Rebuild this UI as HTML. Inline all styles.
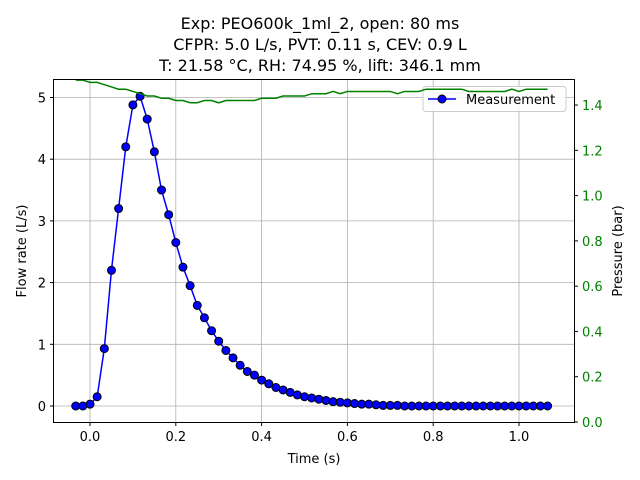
<!DOCTYPE html>
<html><head><meta charset="utf-8">
<style>
body{margin:0;background:#fff;}
svg{display:block;font-family:"DejaVu Sans","Liberation Sans",sans-serif;}
</style></head>
<body>
<svg id="chart" width="640" height="480">
<g font-size="16" text-anchor="middle" fill="#000">
<text x="320" y="29">Exp: PEO600k_1ml_2, open: 80 ms</text>
<text x="320" y="50">CFPR: 5.0 L/s, PVT: 0.11 s, CEV: 0.9 L</text>
<text x="320" y="71">T: 21.58 °C, RH: 74.95 %, lift: 346.1 mm</text>
</g>
<g id="grid"></g>
<g id="flowmarks"></g>
<g>
<rect x="423" y="86.5" width="143" height="25" rx="3" fill="#fff" fill-opacity="0.8" stroke="#ccc"/>
<line x1="428" y1="99" x2="456" y2="99" stroke="#0000ff" stroke-width="1.5"/>
<circle cx="442" cy="99" r="4" fill="#0000ff" stroke="#000"/>
<text x="466" y="104" font-size="13">Measurement</text>
</g>
<g id="marks"></g>
<rect x="53.5" y="79.5" width="521" height="343" fill="none" stroke="#000" stroke-width="1"/>
<g id="axes"></g>
<text x="314" y="463" font-size="13" text-anchor="middle">Time (s)</text>
<text transform="translate(26,251) rotate(-90)" font-size="13" text-anchor="middle">Flow rate (L/s)</text>
<text transform="translate(622,251) rotate(-90)" font-size="13" text-anchor="middle">Pressure (bar)</text>
</svg>
<script>
const flow=[0,0,0.03,0.15,0.93,2.2,3.2,4.2,4.88,5.02,4.65,4.12,3.5,3.1,2.65,2.25,1.95,1.63,1.43,1.22,1.05,0.9,0.78,0.66,0.56,0.5,0.42,0.36,0.3,0.26,0.22,0.18,0.15,0.13,0.11,0.09,0.07,0.06,0.05,0.04,0.03,0.03,0.02,0.01,0.01,0.01,0,0,0,0,0,0,0,0,0,0,0,0,0,0,0,0,0,0,0,0,0];
const pressure=[1.51,1.51,1.50,1.50,1.49,1.48,1.47,1.47,1.46,1.45,1.44,1.44,1.43,1.43,1.42,1.42,1.41,1.41,1.42,1.42,1.41,1.42,1.42,1.42,1.42,1.42,1.43,1.43,1.43,1.44,1.44,1.44,1.44,1.45,1.45,1.45,1.46,1.45,1.46,1.46,1.46,1.46,1.46,1.46,1.46,1.45,1.46,1.46,1.46,1.47,1.47,1.47,1.47,1.47,1.47,1.46,1.46,1.46,1.46,1.46,1.46,1.47,1.46,1.47,1.47,1.47,1.47];
const t0=-0.0333, dt=1/60;
const xTicks=[0,0.2,0.4,0.6,0.8,1.0];
const xTickLabels=["0.0","0.2","0.4","0.6","0.8","1.0"];
const yTicks=[0,1,2,3,4,5];
const y2Ticks=[0,0.2,0.4,0.6,0.8,1.0,1.2,1.4];
const y2TickLabels=["0.0","0.2","0.4","0.6","0.8","1.0","1.2","1.4"];
const NS="http://www.w3.org/2000/svg";
const X=v=>90+v*429;
const Y=v=>406-v*61.7;
const Y2=v=>422-v*226.4;
function mk(tag,attrs,parent){const e=document.createElementNS(NS,tag);for(const k in attrs)e.setAttribute(k,attrs[k]);parent.appendChild(e);return e;}
const grid=document.getElementById('grid'),marks=document.getElementById('marks'),fmarks=document.getElementById('flowmarks'),axes=document.getElementById('axes');
xTicks.forEach((v,i)=>{
 const g=mk('line',{x1:X(v),x2:X(v),y1:79.5,y2:422.5,stroke:'#b0b0b0','stroke-width':0.8},grid);
 
 
 mk('line',{x1:X(v),x2:X(v),y1:422.5,y2:426,stroke:'#000'},axes);
 const t=mk('text',{x:X(v),y:441,'font-size':13,'text-anchor':'middle'},axes);
 t.textContent=xTickLabels[i];
 
 
});
yTicks.forEach(v=>{
 const g=mk('line',{x1:53.5,x2:574.5,y1:Y(v),y2:Y(v),stroke:'#b0b0b0','stroke-width':0.8},grid);
 
 
 mk('line',{x1:50,x2:53.5,y1:Y(v),y2:Y(v),stroke:'#000'},axes);
 const t=mk('text',{x:46,y:Y(v)+5,'font-size':13,'text-anchor':'end'},axes);
 t.textContent=String(v);
 
 
});
y2Ticks.forEach((v,i)=>{
 mk('line',{x1:574.5,x2:578,y1:Y2(v),y2:Y2(v),stroke:'#000'},axes);
 const t=mk('text',{x:582,y:Y2(v)+5,'font-size':13,fill:'#008000'},axes);
 t.textContent=y2TickLabels[i];
 
 
});
const fp=flow.map((f,i)=>X(t0+i*dt)+','+Y(f)).join(' ');
const fl=mk('polyline',{points:fp,fill:'none',stroke:'#0000ff','stroke-width':1.5},fmarks);


flow.forEach((f,i)=>{
 const c=mk('circle',{cx:X(t0+i*dt),cy:Y(f),r:4,fill:'#0000ff',stroke:'#000','stroke-width':1},fmarks);
 
 
});
const pp=pressure.map((p,i)=>X(t0+i*dt)+','+Y2(p)).join(' ');
const pl=mk('polyline',{points:pp,fill:'none',stroke:'#008000','stroke-width':1.5},marks);


</script>
</body></html>
